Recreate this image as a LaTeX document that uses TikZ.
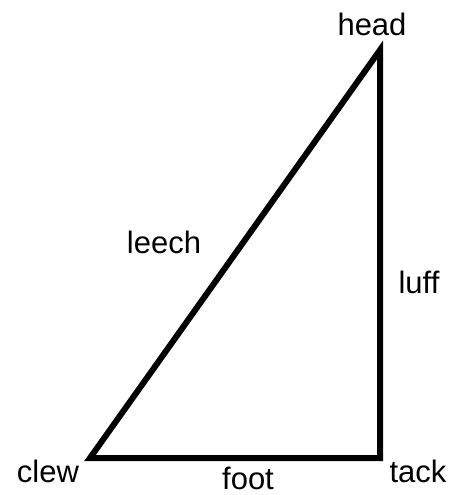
\documentclass[tikz,border=0pt]{standalone}
\usepackage{fontspec}
\setmainfont{Liberation Sans}
\usepackage{tikz}

\tikzset{
  sail/.style={line width=6pt,line join=miter},
  lbl/.style={inner sep=0pt,anchor=base,font=\fontsize{31}{31}\selectfont}
}

\begin{document}
\begin{tikzpicture}[x=1pt,y=-1pt]
  \useasboundingbox (0,0) rectangle (452,495);
  % corners of the sail
  \coordinate (head) at (380,50);
  \coordinate (tack) at (380,458);
  \coordinate (clew) at (90,458);
  \draw[sail] (clew) -- (head) -- (tack) -- cycle;
  % edge and corner names
  \node[lbl] (headlbl) at (372,36) {head};
  \node[lbl] (leechlbl) at (164,253) {leech};
  \node[lbl] (lufflbl) at (419,293) {luff};
  \node[lbl] (clewlbl) at (48,482) {clew};
  \node[lbl] (footlbl) at (248,489) {foot};
  \node[lbl] (tacklbl) at (418,482) {tack};
\end{tikzpicture}
\end{document}
